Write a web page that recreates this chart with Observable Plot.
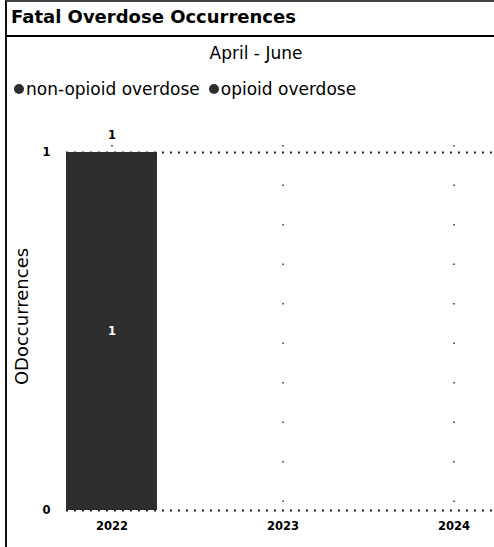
<!DOCTYPE html>
<html>
<head>
<meta charset="utf-8">
<script src="https://cdn.jsdelivr.net/npm/d3@7"></script>
<script src="https://cdn.jsdelivr.net/npm/@observablehq/plot@0.6"></script>
<style>
  html, body { margin: 0; padding: 0; background: #fff; }
  #root { position: relative; width: 494px; height: 547px; overflow: hidden; background: #fff; font-family: "DejaVu Sans", sans-serif; color: #000; }
  #frame { position: absolute; left: 5px; top: 0; right: -5px; bottom: -5px; border-left: 2px solid #111; border-top: 2px solid #444; }
  #title { position: absolute; left: 11px; top: 5px; font-weight: bold; font-size: 18px; line-height: 24px; white-space: nowrap; }
  #sep { position: absolute; left: 6px; right: 0; top: 35px; height: 2px; background: #000; }
  #subtitle { position: absolute; left: 0; width: 512px; top: 43px; text-align: center; font-size: 17px; line-height: 20px; }
  #legend { position: absolute; left: 13px; top: 79px; height: 20px; display: flex; align-items: center; font-size: 17px; white-space: nowrap; }
  #legend svg { flex: 0 0 auto; display: block; margin-right: 1px; }
  #legend .item { display: flex; align-items: center; margin-right: 8px; flex: 0 0 auto; }
  #chart { position: absolute; left: 0; top: 105px; }
</style>
</head>
<body>
<div id="root">
  <div id="frame"></div>
  <div id="title"></div>
  <div id="sep"></div>
  <div id="subtitle"></div>
  <div id="legend"></div>
  <div id="chart"></div>
</div>
<script>
// ---- data ----
const titleText = "Fatal Overdose Occurrences";
const subtitleText = "April - June";
const yLabel = "ODoccurrences";
const years = ["2022", "2023", "2024"];
const categories = ["non-opioid overdose", "opioid overdose"];
const nonOpioidValues = [0, 0, 0];
const opioidValues = [1, 0, 0];
const yTicks = [0, 1];
const categoryColors = ["#2e2e2e", "#2e2e2e"];

// ---- table built from the arrays ----
const rows = [];
years.forEach((yr, i) => {
  rows.push({year: yr, category: categories[0], value: nonOpioidValues[i]});
  rows.push({year: yr, category: categories[1], value: opioidValues[i]});
});
const nonZero = rows.filter(d => d.value > 0);

// ---- header ----
document.getElementById("title").textContent = titleText;
document.getElementById("subtitle").textContent = subtitleText;
const legend = document.getElementById("legend");
categories.forEach((c, i) => {
  const item = document.createElement("span");
  item.className = "item";
  const ns = "http://www.w3.org/2000/svg";
  const sw = document.createElementNS(ns, "svg");
  sw.setAttribute("width", "12");
  sw.setAttribute("height", "12");
  const circ = document.createElementNS(ns, "circle");
  circ.setAttribute("cx", "6");
  circ.setAttribute("cy", "6");
  circ.setAttribute("r", "5");
  circ.setAttribute("fill", categoryColors[i]);
  sw.appendChild(circ);
  item.appendChild(sw);
  const t = document.createElement("span");
  t.textContent = c;
  item.appendChild(t);
  legend.appendChild(item);
});

// ---- chart ----
const W = 494, H = 442;
const chart = Plot.plot({
  width: W,
  height: H,
  marginLeft: 66,
  marginRight: 0,
  marginTop: 47,
  marginBottom: 37,
  style: {fontFamily: "DejaVu Sans, sans-serif", background: "transparent", overflow: "visible"},
  x: {type: "band", domain: years, range: [66, 499], paddingInner: 0.468, paddingOuter: 0, round: false, label: null},
  y: {domain: [0, 1], label: null},
  color: {domain: categories, range: categoryColors},
  marks: [
    Plot.ruleX(years, {x: d => d, stroke: "#000", strokeWidth: 1.2, strokeDasharray: "1.5,38", insetTop: -7}),
    Plot.barY(rows, {x: "year", y: "value", fill: "category"}),
    Plot.ruleY(yTicks, {stroke: "#222", strokeWidth: 2, strokeDasharray: "2,6"}),
    Plot.axisY({ticks: yTicks, tickSize: 0, tickPadding: 16, fontSize: 11.5, fontWeight: "bold", tickFormat: d3.format("d"), label: null}),
    Plot.axisX({tickSize: 0, tickPadding: 11, fontSize: 11.5, fontWeight: "bold", label: null}),
    Plot.text([yLabel], {frameAnchor: "left", textAnchor: "middle", text: d => d, rotate: -90, dx: -44, dy: -15, fontSize: 18, fill: "#000"}),
    Plot.text(nonZero, Plot.stackY({x: "year", y: "value", z: "category", text: "value", fill: "#fff", fontSize: 11.5, fontWeight: "bold"})),
    Plot.text(rows, Plot.groupX({y: "sum", text: "sum", filter: null}, {x: "year", y: "value", dy: -17, fontSize: 11.5, fontWeight: "bold", fill: "#000", filter: d => d.value > 0}))
  ]
});
document.getElementById("chart").appendChild(chart);
</script>
</body>
</html>
